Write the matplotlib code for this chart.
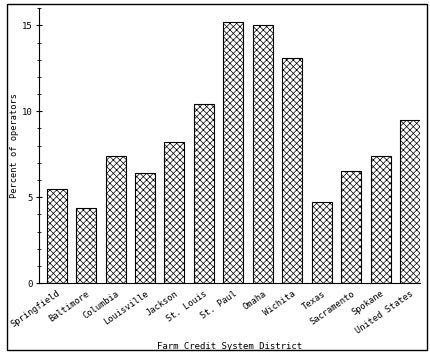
import matplotlib
matplotlib.use("Agg")
import matplotlib.pyplot as plt
from matplotlib.patches import Rectangle
from matplotlib.ticker import MultipleLocator

districts = ["Springfield", "Baltimore", "Columbia", "Louisville", "Jackson",
             "St. Louis", "St. Paul", "Omaha", "Wichita", "Texas",
             "Sacramento", "Spokane", "United States"]
percent = [5.5, 4.4, 7.4, 6.4, 8.2, 10.4, 15.2, 15.0, 13.1, 4.7, 6.5, 7.4, 9.5]

plt.rcParams["font.family"] = ["DejaVu Sans Mono"]
plt.rcParams["hatch.linewidth"] = 0.5

fig = plt.figure(figsize=(4.3, 3.54), dpi=100)
ax = fig.add_axes([0.09, 0.2, 0.887, 0.777])

ax.bar(range(len(districts)), percent, width=0.68, color="white",
       edgecolor="black", linewidth=0.8, hatch="xxxxx")

ax.set_xlim(-0.61, 12.34)
ax.set_ylim(0, 16)
ax.yaxis.set_major_locator(MultipleLocator(5))
ax.yaxis.set_minor_locator(MultipleLocator(1))
ax.tick_params(axis="y", which="major", direction="inout", length=5, width=0.8, labelsize=6.5, pad=2)
ax.tick_params(axis="y", which="minor", direction="inout", length=3, width=0.6)
ax.set_xticks(range(len(districts)))
ax.set_xticklabels(districts, rotation=35, ha="right", fontsize=6.3, rotation_mode="anchor")
ax.tick_params(axis="x", length=0, pad=4)
for side in ("top", "right"):
    ax.spines[side].set_visible(False)
ax.spines["left"].set_linewidth(0.8)
ax.spines["bottom"].set_linewidth(0.8)

ax.set_ylabel("Percent of operators", fontsize=6.2, labelpad=2)
ax.set_xlabel("Farm Credit System District", fontsize=6.5, labelpad=5)

fig.patches.append(Rectangle((0.016, 0.01), 0.977, 0.98, transform=fig.transFigure,
                             fill=False, edgecolor="black", linewidth=1.0))

fig.savefig("out.png", dpi=100)
